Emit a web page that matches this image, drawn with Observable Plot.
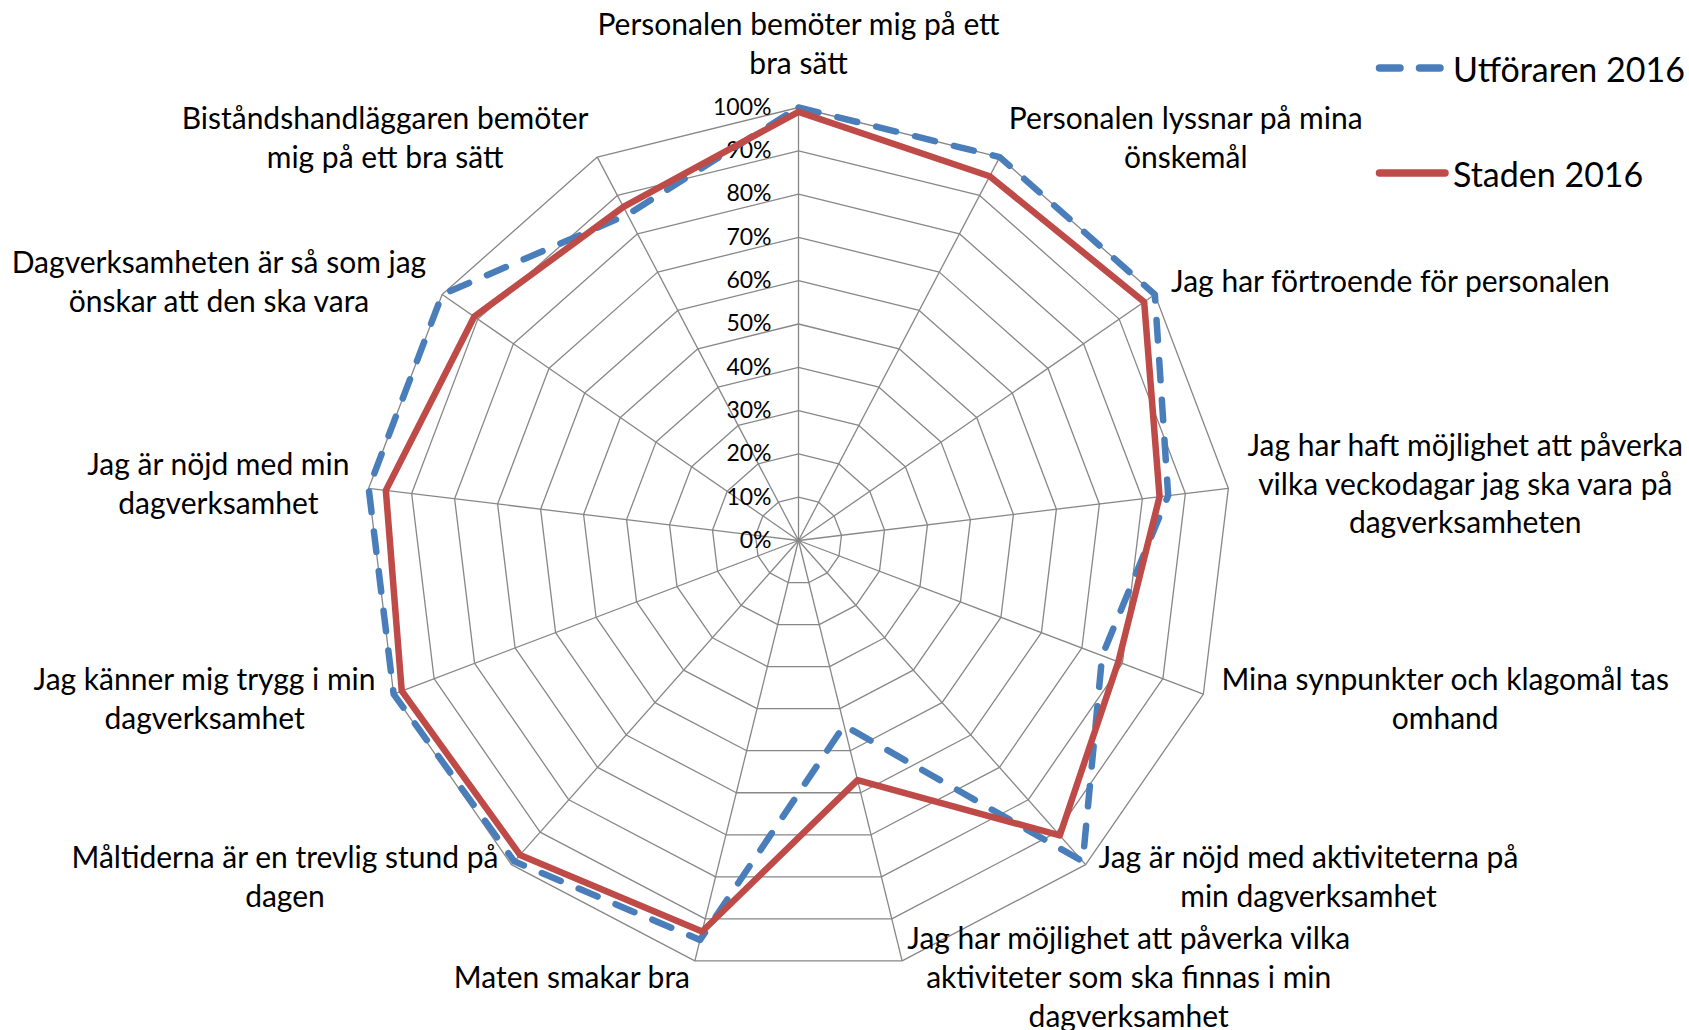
<!DOCTYPE html>
<html>
<head>
<meta charset="utf-8">
<script src="https://cdn.jsdelivr.net/npm/d3@7"></script>
<script src="https://cdn.jsdelivr.net/npm/@observablehq/plot@0.6"></script>
<style>
  html, body { margin: 0; padding: 0; background: #fff; }
  #wrap { position: relative; width: 1689px; height: 1030px; overflow: hidden; }
  .leg { position: absolute; display: flex; align-items: center; font-family: Lato, sans-serif; font-size: 34px; color: #000; white-space: nowrap; }
  .leg svg { display: block; margin-right: 1px; }
</style>
</head>
<body>
<div id="wrap"></div>
<script>
// ---- data ----
const categories = [
  "Personalen bemöter mig på ett\nbra sätt",
  "Personalen lyssnar på mina\nönskemål",
  "Jag har förtroende för personalen",
  "Jag har haft möjlighet att påverka\nvilka veckodagar jag ska vara på\ndagverksamheten",
  "Mina synpunkter och klagomål tas\nomhand",
  "Jag är nöjd med aktiviteterna på\nmin dagverksamhet",
  "Jag har möjlighet att påverka vilka\naktiviteter som ska finnas i min\ndagverksamhet",
  "Maten smakar bra",
  "Måltiderna är en trevlig stund på\ndagen",
  "Jag känner mig trygg i min\ndagverksamhet",
  "Jag är nöjd med min\ndagverksamhet",
  "Dagverksamheten är så som jag\nönskar att den ska vara",
  "Biståndshandläggaren bemöter\nmig på ett bra sätt"
];
const utforaren2016 = [100, 100, 100, 86, 75, 99, 44, 95, 99, 100, 100, 100, 85];
const staden2016    = [99, 95, 97, 84, 79, 91, 57, 93, 97, 98, 96, 91, 87];
const seriesNames = ["Utföraren 2016", "Staden 2016"];
const tickValues = [0, 10, 20, 30, 40, 50, 60, 70, 80, 90, 100];
const tickLabels = ["0%", "10%", "20%", "30%", "40%", "50%", "60%", "70%", "80%", "90%", "100%"];

// ---- layout / style ----
const W = 1689, H = 1030;
const cx = 798, cy = 540, R = 433;          // pixel centre and radius of 100%
const FONT = "Lato";
const labelSize = 30, lineH = 1.3;
const blue = "#4A7EBB", red = "#BE4B48", gridColor = "#878787";
const n = categories.length;
const ang = i => i * 2 * Math.PI / n;
const px = (i, v) => ({x: v / 100 * Math.sin(ang(i)), y: v / 100 * Math.cos(ang(i))});

// grid rings
const rings = [];
tickValues.filter(t => t > 0).forEach(t => {
  for (let i = 0; i <= n; i++) { const p = px(i % n, t); rings.push({ring: t, x: p.x, y: p.y}); }
});
const spokes = categories.map((c, i) => { const p = px(i, 100); return {x2: p.x, y2: p.y}; });

function poly(vals, name) {
  const out = [];
  for (let i = 0; i <= n; i++) { const p = px(i % n, vals[i % n]); out.push({series: name, x: p.x, y: p.y}); }
  return out;
}
const blueData = poly(utforaren2016, seriesNames[0]);
const redData = poly(staden2016, seriesNames[1]);

// category label placement (Excel-like: box adjacent to the 100% vertex)
const ctx = document.createElement("canvas").getContext("2d");
ctx.font = `${labelSize}px ${FONT}`;
const labels = categories.map((c, i) => {
  const lines = c.split("\n");
  const wb = Math.max(...lines.map(l => ctx.measureText(l).width));
  const hb = lines.length * labelSize * lineH;
  const s = Math.sin(ang(i)), co = Math.cos(ang(i));
  const vx = cx + R * s, vy = cy - R * co;
  let lx, ly;
  if (Math.abs(s) < 0.01) {
    lx = vx; ly = vy - 22 - hb / 2;
  } else {
    const gap = Math.max(4, 19 * Math.abs(s));
    lx = vx + Math.sign(s) * (gap + wb / 2);
    ly = vy - 19 * co;
  }
  ly -= 4;
  return {text: c, x: (lx - cx) / R, y: (cy - ly) / R};
});

const chart = Plot.plot({
  width: W, height: H,
  margin: 0,
  x: {domain: [-cx / R, (W - cx) / R], range: [0, W], axis: null},
  y: {domain: [-(H - cy) / R, cy / R], range: [H, 0], axis: null},
  style: {fontFamily: FONT, background: "#fff"},
  marks: [
    Plot.line(rings, {x: "x", y: "y", z: "ring", stroke: gridColor, strokeWidth: 1.3}),
    Plot.link(spokes, {x1: () => 0, y1: () => 0, x2: "x2", y2: "y2", stroke: gridColor, strokeWidth: 1.3}),
    Plot.text(tickValues, {x: () => 0, y: v => v / 100, text: (d, i) => tickLabels[i], textAnchor: "end", dx: -27, fontSize: 23, fill: "#000"}),
    Plot.line(blueData, {x: "x", y: "y", stroke: blue, strokeWidth: 6.5, strokeDasharray: "20.5,19.5", strokeLinecap: "round", strokeLinejoin: "round"}),
    Plot.line(redData, {x: "x", y: "y", stroke: red, strokeWidth: 6.5, strokeLinejoin: "round", strokeLinecap: "round"}),
    Plot.text(labels, {x: "x", y: "y", text: "text", textAnchor: "middle", lineAnchor: "middle", lineHeight: lineH, fontSize: labelSize, fill: "#000"})
  ]
});
const wrap = document.getElementById("wrap");
wrap.appendChild(chart);

// legend
const legendItems = [
  {name: seriesNames[0], color: blue, dash: "20.5,19.5", top: 68},
  {name: seriesNames[1], color: red, dash: null, top: 173}
];
legendItems.forEach(it => {
  const d = document.createElement("div");
  d.className = "leg";
  d.style.left = "1372px";
  d.style.top = (it.top - 22) + "px";
  d.style.height = "44px";
  d.innerHTML = `<svg width="80" height="16"><line x1="7.5" y1="8" x2="73" y2="8" stroke="${it.color}" stroke-width="7.5" stroke-linecap="round" ${it.dash ? `stroke-dasharray="${it.dash}"` : ""}/></svg><span>${it.name}</span>`;
  wrap.appendChild(d);
});
</script>
</body>
</html>
